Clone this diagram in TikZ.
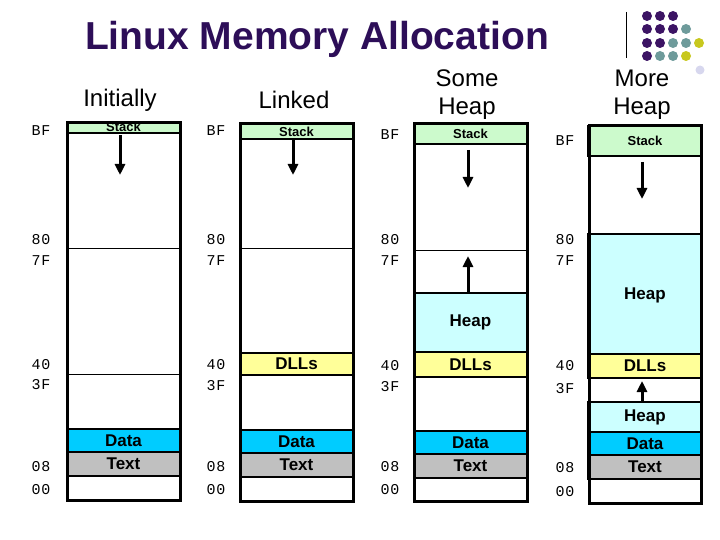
\documentclass[tikz,border=0pt]{standalone}
\usepackage{fontspec}
\setmainfont{Liberation Sans}
\newfontfamily\addrfont[LetterSpace=6]{Liberation Mono}
\usetikzlibrary{arrows.meta}
\definecolor{titlepurple}{RGB}{45,14,88}
\definecolor{dotpurple}{RGB}{60,20,100}
\definecolor{dotteal}{RGB}{110,155,155}
\definecolor{dotyellow}{RGB}{200,200,30}
\definecolor{dotlav}{RGB}{215,215,238}
\definecolor{stackgreen}{RGB}{204,250,204}
\definecolor{datacyan}{RGB}{0,204,255}
\definecolor{textgray}{RGB}{192,192,192}
\definecolor{dllyellow}{RGB}{255,255,153}
\definecolor{heapcyan}{RGB}{204,255,255}
\tikzset{
  band/.style={draw=black, line width=2.5pt, minimum width=113pt, inner sep=0pt, outer sep=0pt,
    font=\bfseries\fontsize{17}{17}\selectfont},
  stackband/.style={band, fill=stackgreen, font=\bfseries\fontsize{13}{13}\selectfont},
  frame/.style={draw=black, line width=3pt, minimum width=113pt, inner sep=0pt, outer sep=0pt},
  thinsep/.style={draw=black, line width=1pt},
  arr/.style={line width=3pt, -{Triangle[width=10pt,length=11pt]}},
  addr/.style={font=\addrfont\fontsize{15}{15}\selectfont, inner sep=0pt},
  header/.style={font=\fontsize{24}{28}\selectfont, align=center, inner sep=0pt},
  dotp/.style={fill=dotpurple, draw=none},
  dott/.style={fill=dotteal, draw=none},
  doty/.style={fill=dotyellow, draw=none}
}
\begin{document}
\begin{tikzpicture}[x=1pt,y=-1pt]
\useasboundingbox (0,0) rectangle (720,540);
% title
\node[font=\bfseries\fontsize{39}{39}\selectfont, text=titlepurple, inner sep=0pt, anchor=base] (title) at (317,50) {Linux Memory Allocation};
% decoration
\draw[line width=1pt] (626,12) -- (626,58);
\foreach \x in {647,660,673}{\fill[dotp] (\x,16) circle (5);}
\foreach \x in {647,660,673}{\fill[dotp] (\x,29) circle (5);}
\fill[dott] (686,29) circle (5);
\fill[dotp] (647,43) circle (5); \fill[dotp] (660,43) circle (5);
\fill[dott] (673,43) circle (5); \fill[dott] (686,43) circle (5); \fill[doty] (699,43) circle (5);
\fill[dotp] (647,56) circle (5); \fill[dott] (660,56) circle (5);
\fill[dott] (673,56) circle (5); \fill[doty] (686,56) circle (5);
\fill[dotlav] (700,70) circle (4.5);
% headers
\node[header] (h1) at (120,100) {Initially};
\node[header] (h2) at (294,100) {Linked};
\node[header] (h3) at (467,95) {Some\\Heap};
\node[header] (h4) at (642,95) {More\\Heap};

% ---------- column 1 ----------
\node[stackband, minimum height=10pt] (s1) at (123.5,128) {};
\node[font=\bfseries\fontsize{13}{13}\selectfont, inner sep=0pt] (s1t) at (123.5,127) {Stack};
\node[band, fill=datacyan, minimum height=23pt] (d1) at (123.5,440.5) {Data};
\node[band, fill=textgray, minimum height=24pt] (t1) at (123.5,464) {Text};
\draw[thinsep] (67,248) -- (180,248);
\draw[thinsep] (67,374) -- (180,374);
\node[frame, minimum height=377pt] (f1) at (123.5,311.5) {};
\coordinate (a1s) at (120,135.5);
\coordinate (a1e) at (120,175);
\draw[arr] (a1s) -- (a1e);

% ---------- column 2 ----------
\node[stackband, minimum height=15pt] (s2) at (296.5,131.5) {Stack};
\node[band, fill=dllyellow, minimum height=22pt] (l2) at (296.5,364) {DLLs};
\node[band, fill=datacyan, minimum height=23pt] (d2) at (296.5,441.5) {Data};
\node[band, fill=textgray, minimum height=24pt] (t2) at (296.5,465) {Text};
\draw[thinsep] (240,248) -- (353,248);
\node[frame, minimum height=377pt] (f2) at (296.5,312.5) {};
\coordinate (a2s) at (293,139);
\coordinate (a2e) at (293,175);
\draw[arr] (a2s) -- (a2e);

% ---------- column 3 ----------
\node[stackband, minimum height=20pt] (s3) at (470.5,134) {Stack};
\node[band, fill=heapcyan, minimum height=59pt] (p3) at (470.5,322.5) {Heap};
\node[band, fill=dllyellow, minimum height=25pt] (l3) at (470.5,364.5) {DLLs};
\node[band, fill=datacyan, minimum height=23pt] (d3) at (470.5,442.5) {Data};
\node[band, fill=textgray, minimum height=24pt] (t3) at (470.5,466) {Text};
\draw[thinsep] (414,250) -- (527,250);
\node[frame, minimum height=377pt] (f3) at (470.5,312.5) {};
\coordinate (a3s) at (468,150);
\coordinate (a3e) at (468,188);
\draw[arr] (a3s) -- (a3e);
\coordinate (b3s) at (468,292);
\coordinate (b3e) at (468,256);
\draw[arr] (b3s) -- (b3e);

% ---------- column 4 ----------
\node[stackband, minimum height=30pt] (s4) at (645,141) {Stack};
\node[band, fill=heapcyan, minimum height=120pt] (p4) at (645,294) {};
\node[font=\bfseries\fontsize{17}{17}\selectfont, inner sep=0pt] (p4t) at (645,295) {Heap};
\node[band, fill=dllyellow, minimum height=24pt] (l4) at (645,366) {DLLs};
\node[band, fill=heapcyan, minimum height=30pt] (q4) at (645,417) {Heap};
\node[band, fill=datacyan, minimum height=23pt] (d4) at (645,443.5) {Data};
\node[band, fill=textgray, minimum height=24pt] (t4) at (645,467) {Text};
\node[frame, minimum height=377pt, minimum width=112pt] (f4) at (645,314.5) {};
\coordinate (a4s) at (642,162);
\coordinate (a4e) at (642,199);
\draw[arr] (a4s) -- (a4e);
\coordinate (b4s) at (642,402);
\coordinate (b4e) at (642,381);
\draw[arr] (b4s) -- (b4e);

% ---------- addresses ----------
\foreach \x/\bf/\hi/\lo/\ee in {41/131/365/385/0, 216/131/365/386/0, 390/135/366/387/0, 565/141/366/389/2}{
  \node[addr] at (\x,\bf) {BF};
  \node[addr] at (\x,240) {80};
  \node[addr] at (\x,261) {7F};
  \node[addr] at (\x,\hi) {40};
  \node[addr] at (\x,\lo) {3F};
  \node[addr] at (\x,467+\ee/2) {08};
  \node[addr] at (\x,490+\ee) {00};
}
\end{tikzpicture}
\end{document}
